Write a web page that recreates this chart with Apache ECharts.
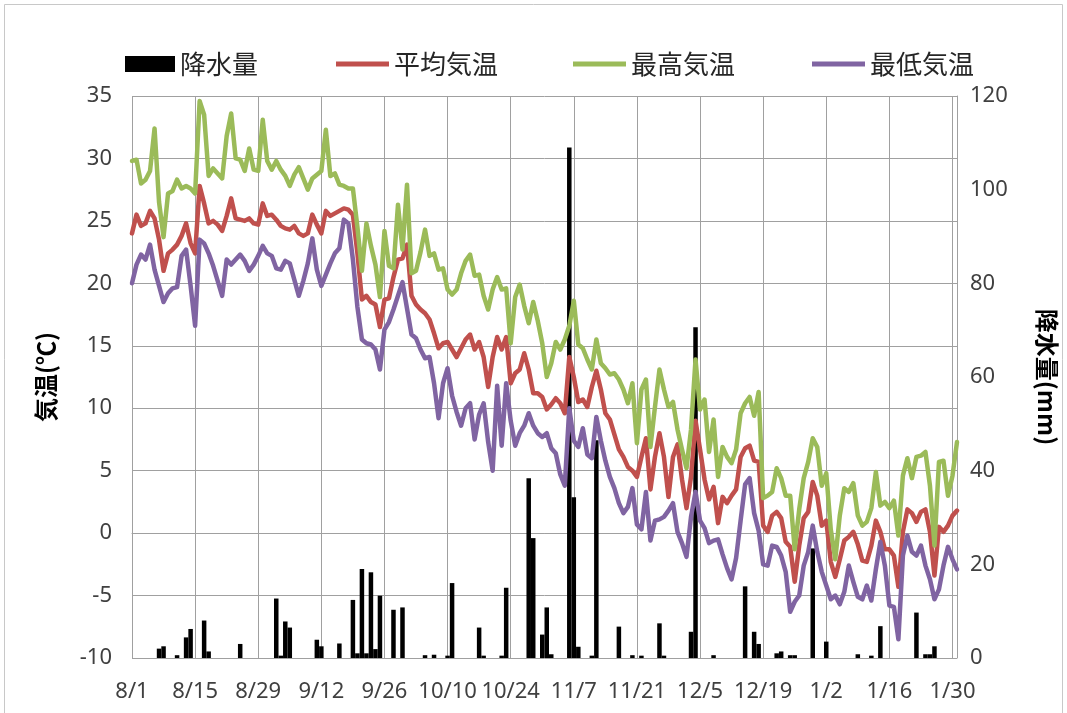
<!DOCTYPE html>
<html><head><meta charset="utf-8">
<script src="https://cdn.jsdelivr.net/npm/echarts@6/dist/echarts.min.js"></script>
<style>html,body{margin:0;padding:0;background:#fff}#c{width:1067px;height:713px}</style>
</head><body><div id="c"></div>
<script>
// tick labels shown on the date axis (every 14 days)
const tickLabels = ['8/1','8/15','8/29','9/12','9/26','10/10','10/24','11/7','11/21','12/5','12/19','1/2','1/16','1/30'];

// daily precipitation (mm), 8/1 .. 1/31
const precip = [
  0,0,0,0,0,0,2.0,2.5,0,0,0.6,0,4.4,6.2,
  0,0,8.0,1.4,0,0,0,0,0,0,3.0,0,0,0,
  0,0,0,0,12.7,0.5,7.8,6.5,0,0,0,0,0,3.9,
  2.5,0,0,0,3.1,0,0,12.4,1.0,19.0,1.0,18.3,1.9,13.3,
  0,0,10.3,0,10.8,0,0,0,0,0.6,0,0.7,0,0,
  0.5,16.0,0,0,0,0,0,6.5,0.5,0,0,0,0.5,15.0,
  0,0,0,0,38.4,25.6,0,5.0,10.8,0.8,0,0,0,109,
  34.3,2.4,0,0,0.5,46.5,0,0,0,0,6.7,0,0,0.6,
  0,0.5,0,0,0,7.4,0.5,0,0,0,0,0,5.6,70.6,
  0,0,0,0.6,0,0,0,0,0,0,15.3,0,5.6,3.0,
  0,0,0,1.0,1.4,0,0.6,0.6,0,0,0,23.4,0,0,
  3.5,0,0,0,0,0,0,0.8,0,0,0.5,0,6.8,0,
  0,0,0,0,0,0,9.7,0,0.8,0.8,2.5,0,0,0,
  0,0
];

// daily mean temperature (°C)
const avgTemp = [
  24.0,25.5,24.6,24.8,25.8,25.2,23.5,21.0,22.4,22.7,23.1,23.8,24.8,23.2,
  22.4,27.8,26.4,24.8,25.0,24.7,24.2,25.4,26.8,25.2,25.1,25.0,25.2,24.8,
  24.7,26.4,25.4,25.5,25.1,24.6,24.4,24.3,24.6,24.0,23.8,24.0,25.5,24.7,
  24.0,25.8,25.4,25.6,25.8,26.0,25.9,25.5,22.4,18.7,19.0,18.5,18.3,16.5,
  18.7,18.8,20.5,21.9,22.0,23.1,19.0,18.3,17.9,17.6,17.1,16.0,14.8,15.2,
  15.3,14.7,14.1,14.8,15.5,15.9,14.7,15.3,14.1,11.7,14.1,15.7,14.7,15.7,
  12.0,12.8,13.1,14.4,13.1,11.2,11.2,10.9,9.9,10.3,10.8,10.4,9.6,14.1,
  12.5,10.5,10.7,10.1,11.7,13.0,11.5,9.6,9.1,7.9,6.7,6.1,5.3,5.0,
  4.5,6.1,7.6,3.5,6.1,8.0,6.1,2.9,6.1,7.1,4.3,2.0,4.5,9.0,
  6.7,4.3,2.7,3.7,0.8,2.9,2.4,3.0,3.5,6.1,6.8,7.0,5.8,5.7,
  0.6,0.1,1.4,1.7,1.2,-0.7,-1.1,-3.9,-1.0,1.2,1.7,4.1,3.0,0.6,
  1.0,-2.3,-3.5,-2.1,-0.6,-0.3,0.1,-0.9,-2.2,-2.3,-1.0,1.0,0.1,-1.3,
  -1.3,-1.8,-4.3,0.1,1.9,1.6,0.9,1.7,1.9,0.1,-3.4,0.5,0.1,0.6,
  1.4,1.8
];

// daily maximum temperature (°C)
const maxTemp = [
  29.8,29.9,28.0,28.3,29.0,32.4,26.5,23.7,27.2,27.4,28.3,27.6,27.8,27.6,
  27.2,34.6,33.5,28.6,29.2,28.8,28.4,31.8,33.6,30.0,29.9,29.0,30.8,29.1,
  29.0,33.1,29.8,29.1,29.8,29.1,28.6,27.8,28.7,29.3,28.4,27.5,28.4,28.7,
  29.0,32.3,28.6,28.8,27.9,27.8,27.6,27.6,24.5,21.0,24.8,23.0,21.5,18.9,
  24.2,21.4,21.2,26.3,22.7,27.9,20.8,21.0,22.5,24.3,22.2,22.4,21.1,21.2,
  19.5,19.1,19.5,20.8,21.8,22.3,20.6,20.7,19.0,17.9,19.5,20.5,19.5,19.6,
  15.2,18.9,19.9,18.2,16.8,18.5,17.0,15.2,12.5,13.6,15.3,14.7,15.5,16.6,
  18.6,15.1,14.8,13.9,13.1,15.5,13.6,13.2,12.7,12.8,12.3,11.5,10.4,12.0,
  7.2,11.5,12.3,6.9,10.1,13.1,11.5,10.1,10.5,8.3,6.7,5.2,8.3,13.9,
  9.9,10.7,6.5,9.1,4.5,6.9,6.1,5.6,6.7,9.6,10.4,10.9,9.4,11.3,
  2.8,3.0,3.3,5.2,4.4,3.0,3.0,-1.3,1.9,4.4,5.7,7.6,6.9,3.8,
  4.8,0.3,-2.1,1.4,3.6,3.3,4.0,1.4,0.6,0.9,2.0,4.9,2.2,2.5,
  2.0,2.6,-0.2,4.6,6.0,4.4,6.1,6.2,6.5,3.8,-1.0,5.7,5.8,3.0,
  4.6,7.3
];

// daily minimum temperature (°C)
const minTemp = [
  20.0,21.5,22.3,21.9,23.1,21.1,19.8,18.5,19.2,19.6,19.7,22.2,22.7,19.8,
  16.6,23.5,23.2,22.4,21.4,20.2,19.0,21.9,21.5,21.9,22.3,21.8,21.0,21.5,
  22.2,23.0,22.4,22.2,21.2,21.1,21.8,21.6,20.3,19.0,20.2,21.6,23.6,21.1,
  19.8,20.7,21.6,22.4,22.8,25.1,24.8,21.9,18.1,15.5,15.2,15.1,14.7,13.1,
  16.3,16.9,17.9,19.0,20.1,18.0,15.9,15.6,14.7,14.0,14.1,12.0,9.2,12.0,
  13.2,11.0,9.7,8.6,10.0,10.4,7.5,9.5,10.4,7.3,5.0,11.8,7.0,12.0,
  9.0,7.0,8.0,8.6,9.6,8.6,8.0,7.7,8.0,6.8,6.4,4.7,3.8,10.0,
  7.4,6.9,8.4,6.3,6.0,9.3,7.4,5.8,4.5,3.6,2.4,1.6,2.1,3.6,
  0.7,0.3,3.3,-0.6,1.0,1.1,1.3,1.8,2.4,0.1,-0.8,-1.9,1.3,3.3,
  1.0,0.4,-0.8,-0.6,-0.5,-1.7,-2.8,-3.7,-2.0,1.0,3.9,4.4,1.6,0.2,
  -2.5,-2.6,-1.0,-1.1,-1.8,-3.1,-6.3,-5.5,-5.0,-2.6,-1.5,0.6,-1.5,-3.1,
  -4.2,-5.3,-5.0,-5.7,-4.7,-2.6,-3.9,-5.1,-5.3,-4.2,-5.4,-2.9,-0.7,-2.6,
  -5.8,-5.9,-8.5,-1.8,-0.2,-1.5,-1.8,-1.0,-2.6,-3.7,-5.3,-4.5,-2.6,-1.1,
  -2.1,-2.9
];

// date categories 8/1 .. 1/31
const dates = [];
for (let k = 0; k < precip.length; k++) {
  const d = new Date(2013, 7, 1 + k);
  dates.push((d.getMonth() + 1) + '/' + d.getDate());
}

const isTick = (idx, val) => tickLabels.indexOf(val) >= 0;
const gridColor = '#a0a0a0';
const axisFont = { fontFamily: 'Noto Sans, sans-serif', fontSize: 22, color: '#404040' };
const legendText = { fontFamily: 'Noto Sans CJK JP, sans-serif', fontSize: 26, color: '#262626' };
const nameFont = { fontFamily: 'Noto Sans CJK JP, sans-serif', fontSize: 24, fontWeight: 'bold', color: '#000' };

const chart = echarts.init(document.getElementById('c'));
chart.setOption({
  animation: false,
  backgroundColor: '#fff',
  graphic: [{
    type: 'rect', silent: true, z: -10,
    shape: { x: 4.5, y: 4.5, width: 1058, height: 760 },
    style: { fill: 'none', stroke: '#c8c8c8', lineWidth: 1 }
  }],
  legend: [
    { data: [{ name: '降水量', icon: 'rect' }], left: 120, top: 46, itemWidth: 50, itemHeight: 16, itemGap: 0, textStyle: legendText },
    { data: [{ name: '平均気温', icon: 'rect' }], left: 331, top: 46, itemWidth: 53, itemHeight: 5, textStyle: legendText },
    { data: [{ name: '最高気温', icon: 'rect' }], left: 568, top: 46, itemWidth: 53, itemHeight: 5, textStyle: legendText },
    { data: [{ name: '最低気温', icon: 'rect' }], left: 807, top: 46, itemWidth: 53, itemHeight: 5, textStyle: legendText }
  ],
  grid: { left: 132, right: 105, top: 96, bottom: 55 },
  xAxis: {
    type: 'category', data: dates, boundaryGap: false,
    axisLine: { show: true, lineStyle: { color: gridColor, width: 1 } },
    axisTick: { show: false },
    axisLabel: Object.assign({ interval: isTick, margin: 23 }, axisFont),
    splitLine: { show: true, interval: isTick, lineStyle: { color: gridColor, width: 1 } }
  },
  yAxis: [
    {
      type: 'value', min: -10, max: 35, interval: 5,
      name: '気温(℃)', nameLocation: 'middle', nameGap: 74, nameRotate: 90, nameTextStyle: nameFont,
      axisLine: { show: false }, axisTick: { show: false },
      axisLabel: Object.assign({ margin: 20 }, axisFont),
      splitLine: { show: true, lineStyle: { color: gridColor, width: 1 } }
    },
    {
      type: 'value', min: 0, max: 120, interval: 20, position: 'right',
      name: '降水量(mm)', nameLocation: 'middle', nameGap: 78, nameRotate: -90, nameTextStyle: nameFont,
      axisLine: { show: true, lineStyle: { color: gridColor, width: 1 } }, axisTick: { show: false },
      axisLabel: Object.assign({ margin: 13 }, axisFont),
      splitLine: { show: false }
    }
  ],
  series: [
    { name: '降水量', type: 'bar', yAxisIndex: 1, data: precip, barWidth: 4.5, itemStyle: { color: '#000' } },
    { name: '平均気温', type: 'line', data: avgTemp, showSymbol: false, symbol: 'none',
      itemStyle: { color: '#C0504D' }, lineStyle: { color: '#C0504D', width: 4.5, join: 'round', cap: 'round' } },
    { name: '最高気温', type: 'line', data: maxTemp, showSymbol: false, symbol: 'none',
      itemStyle: { color: '#9BBB59' }, lineStyle: { color: '#9BBB59', width: 4.5, join: 'round', cap: 'round' } },
    { name: '最低気温', type: 'line', data: minTemp, showSymbol: false, symbol: 'none',
      itemStyle: { color: '#8064A2' }, lineStyle: { color: '#8064A2', width: 4.5, join: 'round', cap: 'round' } }
  ]
});
</script>
</body></html>
